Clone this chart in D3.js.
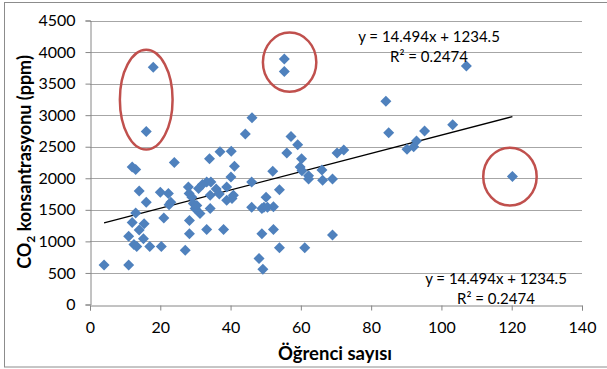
<!DOCTYPE html>
<html>
<head>
<meta charset="utf-8">
<script src="https://cdn.jsdelivr.net/npm/d3@7"></script>
<style>
  html, body { margin: 0; padding: 0; background: #fff; }
  svg { display: block; font-family: Lato, 'Liberation Sans', sans-serif; }
</style>
</head>
<body>
<svg id="chart" width="607" height="369"></svg>
<script>
// Student count vs CO2 concentration
const students = [
  4, 11, 11, 12, 13, 12.5, 13.3, 14, 15.4, 16, 15.2, 17, 20.3, 20, 21, 22.3, 23, 22.5, 14, 12, 13, 24, 16, 18,
  27.1, 28, 28.2, 28.3, 28.3, 29, 29.4, 29.9, 30.9, 31.3, 33.2, 34.4, 33.2, 34.2, 34.2, 34, 35.9, 36.8, 37, 38,
  38.9, 38.9, 40.1, 40.2, 41.1, 40.8, 40.4, 32, 30.4,
  44.2, 46.1, 46, 46, 48.1, 49.2, 48.9, 48.9, 49.5, 50.1, 50.5, 52, 52.2, 52.2, 53.9, 53.9, 55.3, 55.3, 56, 57.2,
  59.1, 60.2, 59.8, 60.3, 61.1, 62.2, 62.2, 66, 66.2, 69, 69, 70.3, 72.2,
  84.2, 85, 90.2, 92.1, 92.9, 95.2, 103.2, 107.1, 120.2
];
const co2 = [
  625, 625, 1080, 1300, 1450, 950, 920, 1180, 1280, 1620, 1040, 920, 920, 1780, 1370, 1760, 1620, 1580, 1800, 2180, 2140, 2250, 2740, 3760,
  860, 1860, 1760, 1330, 1120, 1700, 1600, 1520, 1840, 1440, 1940, 1940, 1190, 1520, 1730, 2310, 1830, 1750, 2420, 1190,
  1860, 1650, 2020, 2430, 2190, 1730, 1680, 1900, 1570,
  2700, 2960, 1940, 1540, 730, 560, 1120, 1520, 1540, 1700, 1540, 2110, 1550, 1190, 1820, 900, 3890, 3690, 2400, 2660,
  2530, 2310, 2180, 2120, 900, 2040, 1990, 2130, 1970, 1990, 1100, 2400, 2450,
  3220, 2720, 2460, 2500, 2590, 2750, 2850, 3780, 2030
];

// Linear trend shown on the chart
const slope = 14.494, intercept = 1234.5;
const eqLabel = 'y = 14.494x + 1234.5';
const r2Label = 'R² = 0.2474';

// Red circles drawn around the outliers: centre and radii in data units
const ringX  = [16.0, 56.8, 119.5];
const ringY  = [3245, 3840, 2026];
const ringRx = [7.5, 7.6, 7.6];
const ringRy = [790, 469, 458];

const xTicks = [0, 20, 40, 60, 80, 100, 120, 140];
const yTicks = [0, 500, 1000, 1500, 2000, 2500, 3000, 3500, 4000, 4500];

const svg = d3.select('#chart');
const x = d3.scaleLinear().domain([0, 140]).range([90, 582]);
const y = d3.scaleLinear().domain([0, 4500]).range([304.5, 20.5]);

// Chart area border
svg.append('rect')
  .attr('x', 4.5).attr('y', 2.5)
  .attr('width', 620).attr('height', 364.5)
  .attr('fill', 'none').attr('stroke', '#8c8c8c');

// Horizontal gridlines
svg.append('g').selectAll('line')
  .data(yTicks.filter(d => d > 0)).enter().append('line')
  .attr('x1', x(0)).attr('x2', x(140))
  .attr('y1', d => Math.round(y(d)) + 0.5).attr('y2', d => Math.round(y(d)) + 0.5)
  .attr('stroke', '#a6a6a6');

// Axes
const fmt = d3.format('d');
const xAxis = svg.append('g')
  .attr('transform', `translate(0,${Math.round(y(0)) + 0.5})`)
  .call(d3.axisBottom(x).tickValues(xTicks).tickFormat(fmt).tickSize(5).tickPadding(11));
const yAxis = svg.append('g')
  .attr('transform', `translate(${Math.round(x(0)) + 0.5},0)`)
  .call(d3.axisLeft(y).tickValues(yTicks).tickFormat(fmt).tickSize(5).tickPadding(10));

[xAxis, yAxis].forEach(g => {
  g.select('.domain').attr('stroke', '#868686');
  g.selectAll('.tick line').attr('stroke', '#868686');
  g.selectAll('.tick text')
    .attr('font-family', "Lato, 'Liberation Sans', sans-serif")
    .attr('font-size', 16).attr('fill', '#000');
});

// Trend line across the data range
const [xMin, xMax] = d3.extent(students);
svg.append('line')
  .attr('x1', x(xMin)).attr('y1', y(intercept + slope * xMin))
  .attr('x2', x(xMax)).attr('y2', y(intercept + slope * xMax))
  .attr('stroke', '#000').attr('stroke-width', 1.3);

// Diamond markers
svg.append('g').selectAll('path')
  .data(d3.range(students.length)).enter().append('path')
  .attr('d', 'M0,-5.5L5.5,0L0,5.5L-5.5,0Z')
  .attr('transform', i => `translate(${x(students[i])},${y(co2[i])})`)
  .attr('fill', '#4f81bd');

// Highlight rings
svg.append('g').selectAll('ellipse')
  .data(ringX.map((d, i) => i)).enter().append('ellipse')
  .attr('cx', i => x(ringX[i])).attr('cy', i => y(ringY[i]))
  .attr('rx', i => x(ringRx[i]) - x(0)).attr('ry', i => y(0) - y(ringRy[i]))
  .attr('fill', 'none').attr('stroke', '#c0504d').attr('stroke-width', 2.5);

// Trendline labels (top and bottom copies)
const labels = svg.append('g').attr('font-size', 15).attr('text-anchor', 'middle').attr('fill', '#000');
[[429, 42], [496, 283.5]].forEach(([cx, cy]) => {
  labels.append('text').attr('x', cx).attr('y', cy).text(eqLabel);
  labels.append('text').attr('x', cx).attr('y', cy + 20).text(r2Label);
});

// Axis titles
svg.append('text')
  .attr('x', 335).attr('y', 360)
  .attr('text-anchor', 'middle')
  .attr('font-size', 18.5).attr('font-weight', 'bold')
  .text('Öğrenci sayısı');

const yTitle = svg.append('text')
  .attr('transform', 'translate(31,162) rotate(-90)')
  .attr('text-anchor', 'middle')
  .attr('font-size', 18).attr('font-weight', 'bold');
yTitle.append('tspan').text('CO');
yTitle.append('tspan').attr('font-size', 12).attr('dy', 4).text('2');
yTitle.append('tspan').attr('dy', -4).text(' konsantrasyonu (ppm)');
</script>
</body>
</html>
